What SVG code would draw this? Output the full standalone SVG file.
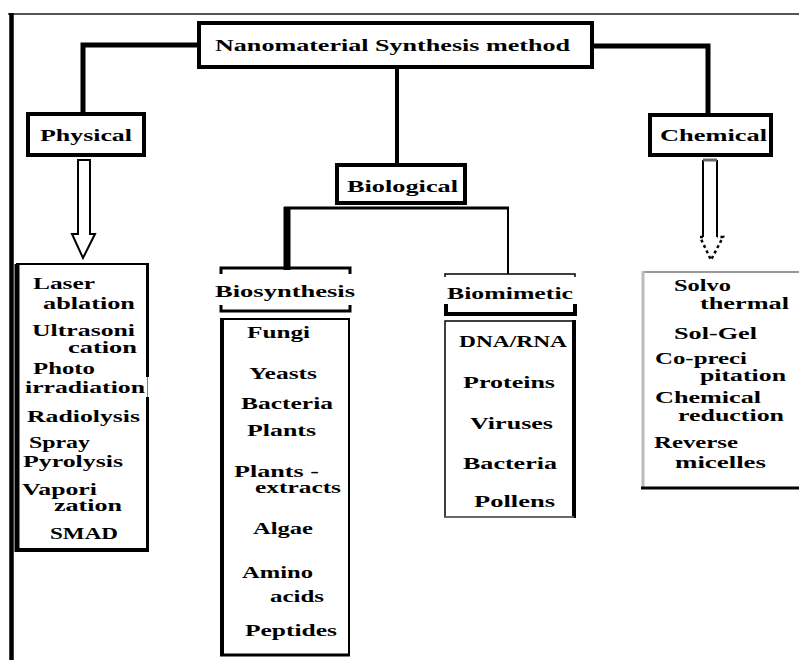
<svg xmlns="http://www.w3.org/2000/svg" width="799" height="660" viewBox="0 0 799 660">
<style>
.t{font-family:"Liberation Serif","Times New Roman","DejaVu Serif",serif;font-weight:bold;font-size:17px;fill:#000}
.box{fill:#fff;stroke:#000;stroke-width:4}
.ln{fill:none;stroke:#000}
</style>
<rect x="0" y="0" width="799" height="660" fill="#fff"/>
<g id="frame">
<line x1="8" y1="14" x2="799" y2="14" stroke="#555" stroke-width="2"/>
<line x1="11.5" y1="13" x2="11.5" y2="660" stroke="#000" stroke-width="4.5"/>
</g>
<g id="connectors">
<path class="ln" d="M199 45 H83 V113" stroke-width="5"/>
<path class="ln" d="M591 46 H708 V114" stroke-width="5"/>
<path class="ln" d="M397 67 V164" stroke-width="4"/>
<path class="ln" d="M284 208 H509" stroke-width="3"/>
<path class="ln" d="M287 207 V270" stroke-width="7"/>
<path class="ln" d="M508 207 V274" stroke-width="2"/>
<polygon points="78,160 90,160 90,234 95,234 83,258 72,234 78,234" fill="#fff" stroke="#000" stroke-width="2"/>
<path d="M703 160 V237 M717 160 V237" class="ln" stroke-width="2"/>
<line x1="703" y1="160" x2="717" y2="160" stroke="#666" stroke-width="3"/>
<path d="M703 237 H700 L711 260 L723 237 H717" class="ln" stroke-width="2.5" stroke-dasharray="3 3"/>
</g>
<g id="main">
<rect class="box" x="199" y="23" width="393" height="44"/>
<text class="t" x="215" y="51" textLength="355" lengthAdjust="spacingAndGlyphs">Nanomaterial Synthesis method</text>
</g>
<g id="physical">
<rect class="box" x="28" y="114" width="116" height="41"/>
<text class="t" x="40" y="141" textLength="92" lengthAdjust="spacingAndGlyphs">Physical</text>
</g>
<g id="chemical">
<rect class="box" x="650" y="115" width="121" height="40"/>
<text class="t" x="660" y="141" textLength="107" lengthAdjust="spacingAndGlyphs">Chemical</text>
</g>
<g id="biological">
<rect class="box" x="337" y="165" width="128" height="38"/>
<text class="t" x="347" y="192" textLength="111" lengthAdjust="spacingAndGlyphs">Biological</text>
</g>
<g id="biosynthesis">
<path class="ln" d="M221 274 V268 H350 V274" stroke="#555" stroke-width="3"/>
<path class="ln" d="M221 305 V311 H350 V305" stroke-width="3"/>
<text class="t" x="215" y="297" textLength="140" lengthAdjust="spacingAndGlyphs">Biosynthesis</text>
</g>
<g id="biomimetic">
<path class="ln" d="M445 277 V274 H575 V277" stroke-width="1.5"/>
<path class="ln" d="M446 304 V314 H575 V304" stroke-width="4"/>
<text class="t" x="447" y="299" textLength="126" lengthAdjust="spacingAndGlyphs">Biomimetic</text>
</g>
<g id="physical-list">
<rect x="17" y="264" width="131" height="286" fill="#fff" stroke="#000" stroke-width="2"/>
<line x1="17" y1="264" x2="17" y2="552" stroke="#000" stroke-width="5"/>
<line x1="15" y1="550" x2="149" y2="550" stroke="#000" stroke-width="4"/>
<line x1="147.5" y1="264" x2="147.5" y2="377" stroke="#000" stroke-width="3"/>
<line x1="147.5" y1="397" x2="147.5" y2="551" stroke="#000" stroke-width="3"/>
<line x1="148.5" y1="377" x2="148.5" y2="397" stroke="#fff" stroke-width="2"/>
<text class="t" x="33" y="289" textLength="62" lengthAdjust="spacingAndGlyphs">Laser</text>
<text class="t" x="43" y="309" textLength="92" lengthAdjust="spacingAndGlyphs">ablation</text>
<text class="t" x="32" y="336" textLength="103" lengthAdjust="spacingAndGlyphs">Ultrasoni</text>
<text class="t" x="68" y="353" textLength="69" lengthAdjust="spacingAndGlyphs">cation</text>
<text class="t" x="33" y="374" textLength="62" lengthAdjust="spacingAndGlyphs">Photo</text>
<text class="t" x="25" y="393" textLength="120" lengthAdjust="spacingAndGlyphs">irradiation</text>
<text class="t" x="27" y="422" textLength="113" lengthAdjust="spacingAndGlyphs">Radiolysis</text>
<text class="t" x="29" y="448" textLength="61" lengthAdjust="spacingAndGlyphs">Spray</text>
<text class="t" x="23" y="467" textLength="100" lengthAdjust="spacingAndGlyphs">Pyrolysis</text>
<text class="t" x="22" y="495" textLength="75" lengthAdjust="spacingAndGlyphs">Vapori</text>
<text class="t" x="54" y="511" textLength="68" lengthAdjust="spacingAndGlyphs">zation</text>
<text class="t" x="50" y="539" textLength="68" lengthAdjust="spacingAndGlyphs">SMAD</text>
</g>
<g id="biosynthesis-list">
<rect x="221" y="319" width="128" height="336" fill="#fff" stroke="#000" stroke-width="2"/>
<line x1="222" y1="318" x2="222" y2="656" stroke="#000" stroke-width="4"/>
<line x1="220" y1="655" x2="350" y2="655" stroke="#000" stroke-width="3"/>
<text class="t" x="247" y="338" textLength="63" lengthAdjust="spacingAndGlyphs">Fungi</text>
<text class="t" x="249" y="379" textLength="68" lengthAdjust="spacingAndGlyphs">Yeasts</text>
<text class="t" x="241" y="409" textLength="92" lengthAdjust="spacingAndGlyphs">Bacteria</text>
<text class="t" x="247" y="436" textLength="69" lengthAdjust="spacingAndGlyphs">Plants</text>
<text class="t" x="234" y="477" textLength="85" lengthAdjust="spacingAndGlyphs">Plants -</text>
<text class="t" x="255" y="493" textLength="86" lengthAdjust="spacingAndGlyphs">extracts</text>
<text class="t" x="253" y="534" textLength="60" lengthAdjust="spacingAndGlyphs">Algae</text>
<text class="t" x="242" y="578" textLength="71" lengthAdjust="spacingAndGlyphs">Amino</text>
<text class="t" x="270" y="602" textLength="54" lengthAdjust="spacingAndGlyphs">acids</text>
<text class="t" x="245" y="636" textLength="92" lengthAdjust="spacingAndGlyphs">Peptides</text>
</g>
<g id="biomimetic-list">
<rect x="445" y="321" width="129" height="196" fill="#fff" stroke="#000" stroke-width="1.5"/>
<line x1="574" y1="320" x2="574" y2="518" stroke="#000" stroke-width="4"/>
<line x1="445" y1="517" x2="574" y2="517" stroke="#777" stroke-width="1.5"/>
<text class="t" x="459" y="347" textLength="108" lengthAdjust="spacingAndGlyphs">DNA/RNA</text>
<text class="t" x="463" y="388" textLength="92" lengthAdjust="spacingAndGlyphs">Proteins</text>
<text class="t" x="470" y="429" textLength="83" lengthAdjust="spacingAndGlyphs">Viruses</text>
<text class="t" x="463" y="469" textLength="94" lengthAdjust="spacingAndGlyphs">Bacteria</text>
<text class="t" x="474" y="507" textLength="81" lengthAdjust="spacingAndGlyphs">Pollens</text>
</g>
<g id="chemical-list">
<line x1="642" y1="272" x2="799" y2="272" stroke="#999" stroke-width="2"/>
<line x1="643" y1="271" x2="643" y2="489" stroke="#bbb" stroke-width="3"/>
<line x1="641" y1="488" x2="799" y2="488" stroke="#000" stroke-width="3"/>
<text class="t" x="674" y="291" textLength="57" lengthAdjust="spacingAndGlyphs">Solvo</text>
<text class="t" x="700" y="309" textLength="89" lengthAdjust="spacingAndGlyphs">thermal</text>
<text class="t" x="674" y="339" textLength="83" lengthAdjust="spacingAndGlyphs">Sol-Gel</text>
<text class="t" x="655" y="364" textLength="92" lengthAdjust="spacingAndGlyphs">Co-preci</text>
<text class="t" x="700" y="381" textLength="86" lengthAdjust="spacingAndGlyphs">pitation</text>
<text class="t" x="655" y="403" textLength="106" lengthAdjust="spacingAndGlyphs">Chemical</text>
<text class="t" x="678" y="421" textLength="106" lengthAdjust="spacingAndGlyphs">reduction</text>
<text class="t" x="654" y="448" textLength="84" lengthAdjust="spacingAndGlyphs">Reverse</text>
<text class="t" x="675" y="468" textLength="91" lengthAdjust="spacingAndGlyphs">micelles</text>
</g>
</svg>
